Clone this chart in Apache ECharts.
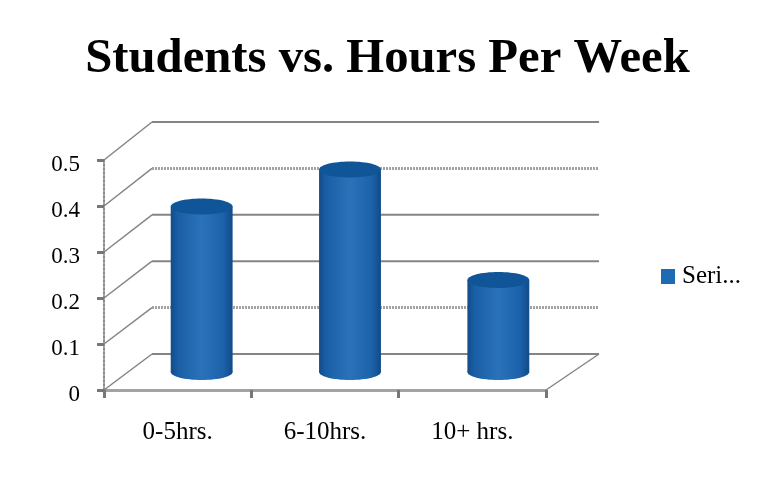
<!DOCTYPE html>
<html><head><meta charset="utf-8">
<style>html,body{margin:0;padding:0;background:#fff}#c{width:760px;height:486px}</style>
<script src="https://cdn.jsdelivr.net/npm/echarts@6/dist/echarts.min.js"></script>
</head><body><div id="c"></div>
<script>
const categories = ['0-5hrs.', '6-10hrs.', '10+ hrs.'];
const hours = [0.36, 0.44, 0.2];
const tickValues = [0, 0.1, 0.2, 0.3, 0.4, 0.5];
const wavyTicks = [0.1, 0.4];

const FONT = '"Liberation Serif"';
const GREY = '#858585';
const DX = 48, DY = -36, DX_R = 53, WALL_STRETCH = 4;
const wavy = { stroke: '#a3a3a3', lineWidth: 3, lineDash: [2, 1] };
const solid = { stroke: GREY, lineWidth: 2 };

const chart = echarts.init(document.getElementById('c'));
chart.setOption({
  animation: false,
  backgroundColor: '#fff',
  title: {
    text: 'Students vs. Hours Per Week', left: 382.5, top: 30, textAlign: 'center',
    textStyle: { fontFamily: FONT, fontWeight: 'bold', fontSize: 48.7, color: '#000' }
  },
  legend: {
    left: 656, top: 259, itemWidth: 14, itemHeight: 15, itemGap: 0,
    icon: 'rect',
    data: [{ name: 'Seri...', itemStyle: { color: '#1f6ab5' } }],
    textStyle: { fontFamily: FONT, fontSize: 25, color: '#000', padding: [8, 0, 0, 2] }
  },
  grid: { left: 104, top: 160, width: 442, height: 230 },
  xAxis: {
    type: 'category', data: categories,
    axisLine: { show: true, lineStyle: { color: '#a3a3a3', width: 3, type: [2, 1] } },
    axisTick: { show: true, length: 8, lineStyle: { color: '#777', width: 3 } },
    axisLabel: { fontFamily: FONT, fontSize: 25, color: '#000', margin: 30 }
  },
  yAxis: {
    type: 'value', min: 0, max: 0.5, interval: 0.1,
    splitLine: { show: false },
    axisLine: { show: true, lineStyle: { color: '#8a8a8a', width: 2, type: [2, 2] } },
    axisTick: { show: true, length: 7, lineStyle: { color: '#777', width: 3 } },
    axisLabel: { fontFamily: FONT, fontSize: 23, color: '#000', margin: 24, verticalAlign: 'top', lineHeight: 10 }
  },
  series: [
    {
      type: 'custom', name: 'walls', silent: true, clip: false, z: 1,
      data: tickValues,
      encode: { x: -1, y: 0 },
      renderItem(params, api) {
        const v = api.value(0);
        const band = api.size([1, 0])[0];
        const y = api.coord([0, v])[1];
        const x0 = api.coord([0, v])[0] - band / 2;
        const x1 = api.coord([2, v])[0] + band / 2;
        const yBack = y + DY - v * WALL_STRETCH;
        const kids = [
          { type: 'line', shape: { x1: x0, y1: y, x2: x0 + DX, y2: yBack }, style: { stroke: GREY, lineWidth: 1.5 } },
          { type: 'line', shape: { x1: x0 + DX, y1: yBack, x2: x1 + DX_R, y2: yBack },
            style: wavyTicks.includes(v) ? wavy : solid }
        ];
        if (v === 0) {
          kids.push({ type: 'line', shape: { x1: x1, y1: y, x2: x1 + DX_R, y2: yBack }, style: { stroke: GREY, lineWidth: 1.5 } });
        }
        return { type: 'group', children: kids };
      }
    },
    {
      type: 'custom', name: 'Seri...', silent: true, clip: false, z: 2,
      itemStyle: { color: '#1f6ab5' },
      data: hours.map((v, i) => [i, v]),
      encode: { x: 0, y: 1 },
      renderItem(params, api) {
        const i = api.value(0), v = api.value(1);
        const top = api.coord([i, v]), base = api.coord([i, 0]);
        const w = api.size([1, 0])[0] * 0.42;
        const cx = base[0] + DX / 2 + i, rx = w / 2, ry = 8;
        const yt = top[1] + DY / 2, yb = base[1] + DY / 2;
        const grad = new echarts.graphic.LinearGradient(0, 0, 1, 0, [
          { offset: 0, color: '#124c8a' },
          { offset: 0.12, color: '#1a5fa6' },
          { offset: 0.5, color: '#2a72ba' },
          { offset: 0.85, color: '#1c62aa' },
          { offset: 1, color: '#114a86' }
        ]);
        return {
          type: 'group',
          children: [
            { type: 'ellipse', shape: { cx, cy: yb, rx, ry }, style: { fill: grad } },
            { type: 'rect', shape: { x: cx - rx, y: yt, width: w, height: yb - yt }, style: { fill: grad } },
            { type: 'ellipse', shape: { cx, cy: yt, rx, ry }, style: { fill: '#0f5598' } }
          ]
        };
      }
    }
  ]
});
</script></body></html>
